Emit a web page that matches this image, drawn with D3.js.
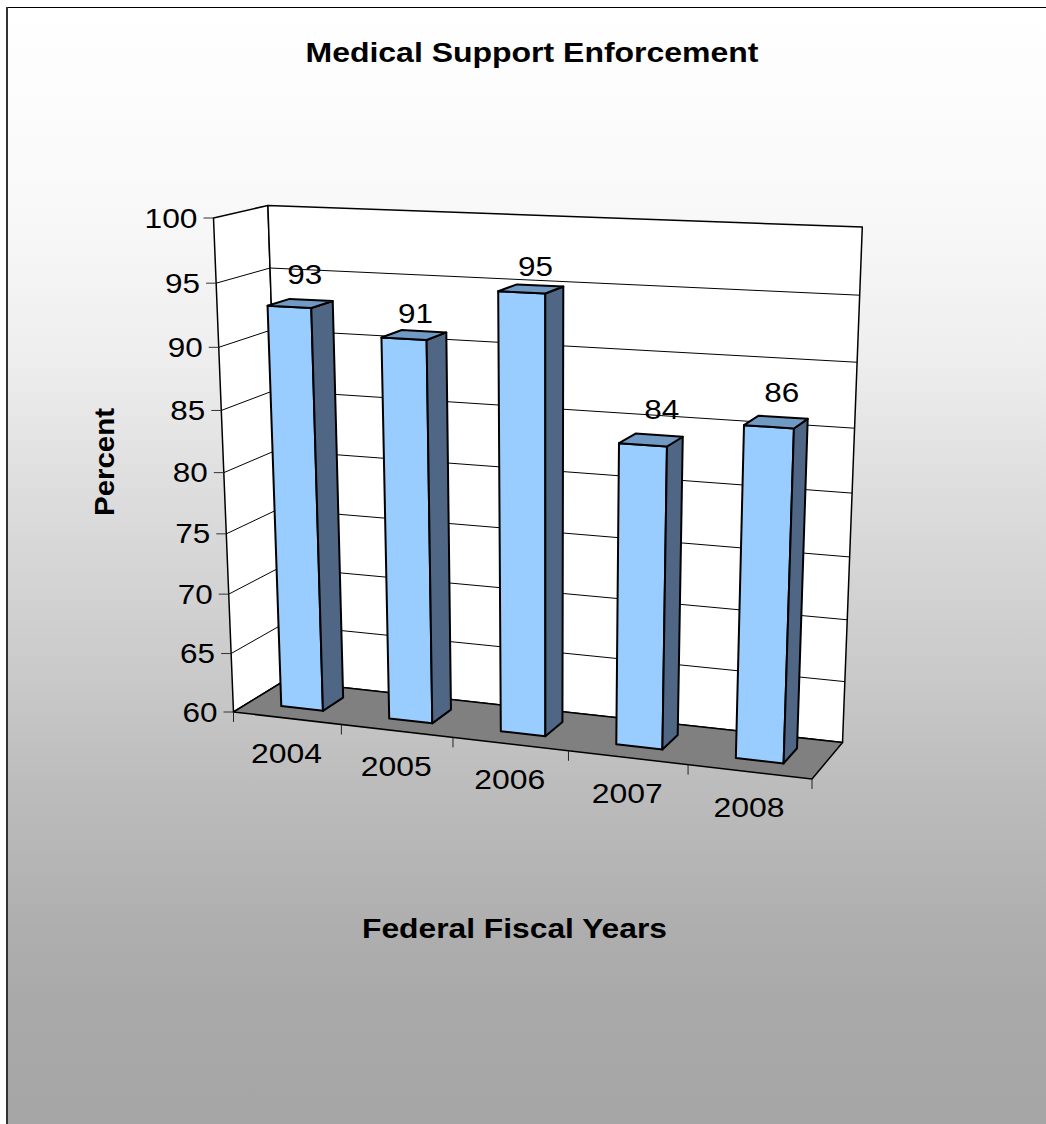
<!DOCTYPE html>
<html><head><meta charset="utf-8">
<style>html,body{margin:0;padding:0;background:#fff}svg{display:block}text{font-family:"Liberation Sans",Arial,sans-serif;fill:#000}</style>
<script src="https://cdn.jsdelivr.net/npm/d3@7"></script></head>
<body><svg id="c" width="1046" height="1124"></svg>
<script>
const years = ["2004","2005","2006","2007","2008"];
const percents = [93,91,95,84,86];
const valueTicks = [60,65,70,75,80,85,90,95,100];
const titleText = "Medical Support Enforcement";
const xTitle = "Federal Fiscal Years";
const yTitle = "Percent";

const W=1046,H=1124;
const svg=d3.select("#c");

// background gradient
const bgY=[8,215,358,502,645,788,932,1003,1075,1124];
const bgV=[255,248,238,220,205,188,174,169,167,166];
const grad=svg.append("defs").append("linearGradient").attr("id","bg").attr("gradientUnits","userSpaceOnUse")
  .attr("x1",0).attr("x2",0).attr("y1",0).attr("y2",H);
bgY.forEach((y,i)=>grad.append("stop").attr("offset",y/H).attr("stop-color",d3.rgb(bgV[i],bgV[i],bgV[i])));
svg.append("rect").attr("x",7).attr("y",8).attr("width",W-7).attr("height",H-8).attr("fill","url(#bg)");
svg.append("line").attr("x1",6.5).attr("x2",W).attr("y1",7.5).attr("y2",7.5).attr("stroke","#000").attr("stroke-width",1.2);
svg.append("line").attr("x1",7).attr("x2",7).attr("y1",7).attr("y2",H).attr("stroke","#333").attr("stroke-width",2);

// projective camera calibrated on the plot box
const O=[233.5,712], U1=[812,779], W1=[284,681], V1=[213.5,218];
const gU=-0.083,gV=-0.06,gW=0.0403;
const cam={
  ax:U1[0]*(1+gU)-O[0],ay:U1[1]*(1+gU)-O[1],
  bx:V1[0]*(1+gV)-O[0],by:V1[1]*(1+gV)-O[1],
  cx:W1[0]*(1+gW)-O[0],cy:W1[1]*(1+gW)-O[1]};
const P=(u,v,w)=>{const d=1+gU*u+gV*v+gW*w;
  return [(O[0]+cam.ax*u+cam.bx*v+cam.cx*w)/d,(O[1]+cam.ay*u+cam.by*v+cam.cy*w)/d];};

const vS=d3.scaleLinear().domain([60,100]).range([0,1]);
const band=d3.scaleBand().domain(years).range([0,1]).paddingInner(0.61).paddingOuter(0.305);
const step=band.step();
const wFront=0.30,wBack=0.72;
const line=d3.line();
const poly=(pts,fill,sw)=>svg.append("path").attr("d",line(pts)+"Z").attr("fill",fill).attr("stroke","#000").attr("stroke-width",sw).attr("stroke-linejoin","round");
const seg=(a,b,sw,col)=>svg.append("path").attr("d",line([a,b])).attr("fill","none").attr("stroke",col||"#000").attr("stroke-width",sw);

// walls
poly([P(0,0,0),P(0,1,0),P(0,1,1),P(0,0,1)],"#fff",1.5);
poly([P(0,0,1),P(0,1,1),P(1,1,1),P(1,0,1)],"#fff",1.5);
// gridlines + ticks
const fs=27;
const tx=(sel,len)=>sel.attr("font-size",fs).attr("textLength",len).attr("lengthAdjust","spacingAndGlyphs");
valueTicks.forEach(t=>{
  const v=vS(t),a=P(0,v,0),b=P(0,v,1),c=P(1,v,1);
  if(t>60&&t<100){seg(a,b,1);seg(b,c,1);}
  seg([a[0]-10,a[1]],a,1,"#333");
  const len=String(t).length===3?53:35;
  tx(svg.append("text").attr("x",a[0]-16-len).attr("y",a[1]+9.5).text(t),len);
});
// floor
poly([P(0,0,0),P(1,0,0),P(1,0,1),P(0,0,1)],"#808080",1.5);
// category ticks
d3.range(0,1.0001,step).forEach(u=>{const a=P(u,0,0);seg(a,[a[0],a[1]+10],1,"#222");});
// bars
years.forEach((y,i)=>{
  const u0=band(y),u1=u0+band.bandwidth(),v=vS(percents[i]);
  poly([P(u0,0,wFront),P(u1,0,wFront),P(u1,v,wFront),P(u0,v,wFront)],"#99ccff",2);
  poly([P(u1,0,wFront),P(u1,0,wBack),P(u1,v,wBack),P(u1,v,wFront)],"#4f6785",2);
  poly([P(u0,v,wFront),P(u1,v,wFront),P(u1,v,wBack),P(u0,v,wBack)],"#7099c4",2);
});
// value labels, nudged off the centre of each bar top
const labelNudge=[[5,-20],[2,-12],[5,-13],[11,-21],[6,-20]];
years.forEach((y,i)=>{
  const c=P(band(y)+band.bandwidth()/2,vS(percents[i]),0.5);
  tx(svg.append("text").attr("x",c[0]+labelNudge[i][0]-17.5).attr("y",c[1]+labelNudge[i][1]).text(percents[i]),35);
});
// category labels
years.forEach((y,i)=>{
  const c=P(band(y)+band.bandwidth()/2,0,0);
  tx(svg.append("text").attr("x",c[0]-36).attr("y",c[1]+45).text(y),71);
});
// titles
svg.append("text").attr("x",305.5).attr("y",62).attr("font-size",27).attr("font-weight","bold").attr("textLength",453).attr("lengthAdjust","spacingAndGlyphs").text(titleText);
svg.append("text").attr("x",362).attr("y",938).attr("font-size",27).attr("font-weight","bold").attr("textLength",305).attr("lengthAdjust","spacingAndGlyphs").text(xTitle);
svg.append("text").attr("transform","translate(114,516) rotate(-90)").attr("font-size",28).attr("font-weight","bold").attr("textLength",108).attr("lengthAdjust","spacingAndGlyphs").text(yTitle);
</script></body></html>
